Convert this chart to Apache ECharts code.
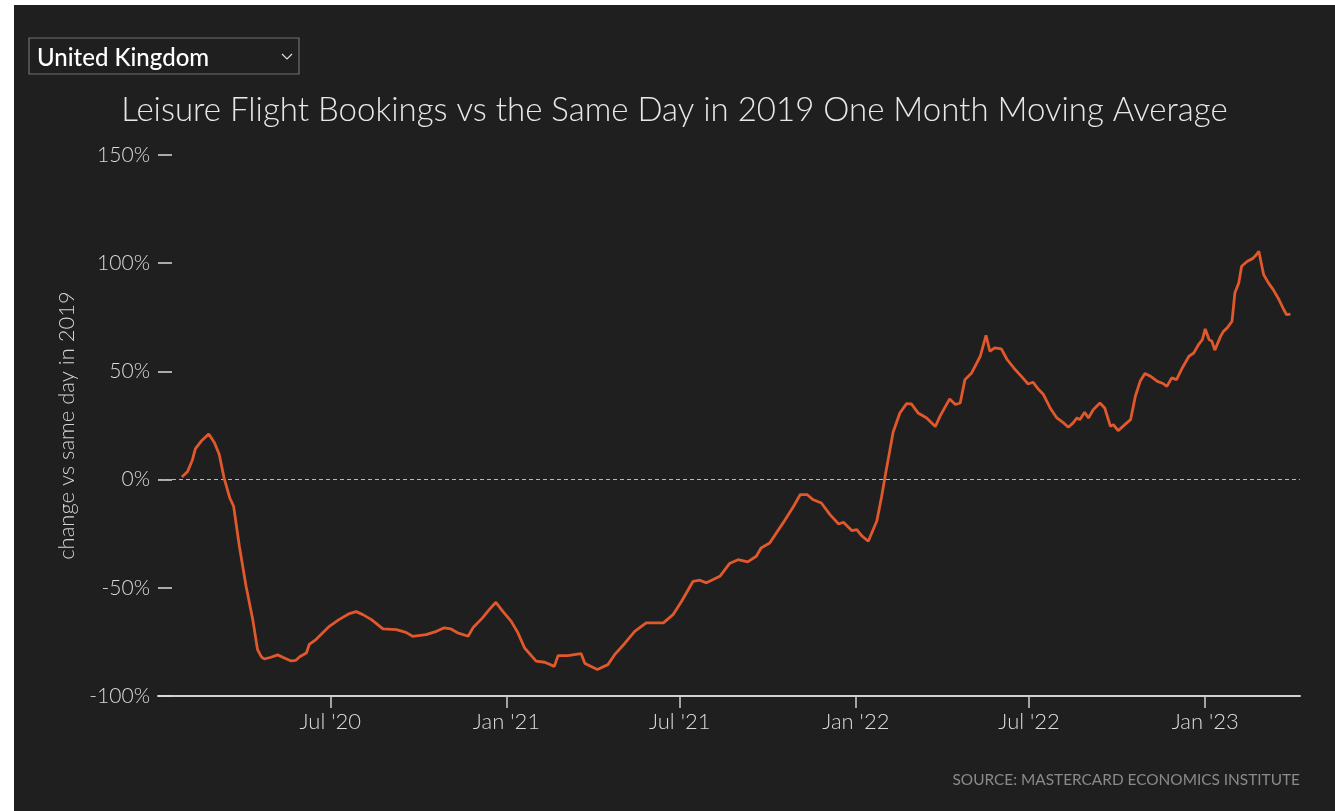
<!DOCTYPE html>
<html>
<head>
<meta charset="utf-8">
<script src="https://cdn.jsdelivr.net/npm/echarts@6/dist/echarts.min.js"></script>
<style>
  html, body { margin: 0; padding: 0; background: #ffffff; }
  #chart { position: absolute; left: 14px; top: 5px; width: 1321px; height: 806px; }
</style>
</head>
<body>
<div id="chart"></div>
<script>
// Leisure flight bookings, UK, % change vs the same day in 2019 (one month moving average)
const dates = [
  '2020-01-28','2020-02-03','2020-02-08','2020-02-11','2020-02-17','2020-02-25','2020-03-02','2020-03-07',
  '2020-03-12','2020-03-18','2020-03-22','2020-03-28','2020-04-04','2020-04-11','2020-04-16','2020-04-20',
  '2020-04-23','2020-04-30','2020-05-07','2020-05-14','2020-05-21','2020-05-26','2020-05-30','2020-06-06',
  '2020-06-09','2020-06-16','2020-06-30','2020-07-10','2020-07-21','2020-07-28','2020-08-04','2020-08-13',
  '2020-08-25','2020-09-08','2020-09-18','2020-09-25','2020-10-09','2020-10-20','2020-10-28','2020-11-04',
  '2020-11-11','2020-11-22','2020-11-27','2020-12-07','2020-12-14','2020-12-21','2020-12-28','2021-01-06',
  '2021-01-13','2021-01-20','2021-02-01','2021-02-10','2021-02-20','2021-02-24','2021-03-06','2021-03-20',
  '2021-03-24','2021-04-06','2021-04-17','2021-04-24','2021-05-05','2021-05-15','2021-05-27','2021-06-14',
  '2021-06-24','2021-07-03','2021-07-15','2021-07-22','2021-07-29','2021-08-12','2021-08-22','2021-08-31',
  '2021-09-10','2021-09-19','2021-09-24','2021-10-03','2021-10-17','2021-10-28','2021-11-04','2021-11-11',
  '2021-11-17','2021-11-26','2021-12-05','2021-12-14','2021-12-19','2021-12-28','2022-01-02','2022-01-07',
  '2022-01-14','2022-01-23','2022-01-28','2022-02-02','2022-02-09','2022-02-16','2022-02-23','2022-02-28',
  '2022-03-07','2022-03-16','2022-03-25','2022-03-30','2022-04-09','2022-04-15','2022-04-20','2022-04-25',
  '2022-05-02','2022-05-11','2022-05-17','2022-05-21','2022-05-26','2022-06-02','2022-06-08','2022-06-15',
  '2022-06-23','2022-06-30','2022-07-05','2022-07-11','2022-07-16','2022-07-23','2022-07-30','2022-08-06',
  '2022-08-11','2022-08-16','2022-08-20','2022-08-23','2022-08-28','2022-09-01','2022-09-06','2022-09-13',
  '2022-09-18','2022-09-24','2022-09-27','2022-10-02','2022-10-09','2022-10-15','2022-10-20','2022-10-25',
  '2022-10-30','2022-11-05','2022-11-12','2022-11-18','2022-11-22','2022-11-27','2022-12-02','2022-12-08',
  '2022-12-15','2022-12-20','2022-12-25','2022-12-29','2023-01-01','2023-01-05','2023-01-08','2023-01-11',
  '2023-01-17','2023-01-20','2023-01-24','2023-01-25','2023-01-29','2023-02-01','2023-02-05','2023-02-08',
  '2023-02-14','2023-02-19','2023-02-22','2023-02-26','2023-03-03','2023-03-08','2023-03-13','2023-03-19',
  '2023-03-24','2023-03-27','2023-03-31'
];
const values = [
  1.2, 3.8, 9.2, 14.2, 17.7, 21.1, 17.0, 11.6,
  0.8, -8.5, -12.3, -30.8, -49.3, -64.7, -78.6, -81.9,
  -82.9, -82.1, -81.0, -82.4, -83.8, -83.5, -81.9, -80.1,
  -76.2, -73.9, -67.8, -64.7, -61.9, -61.0, -62.4, -64.7,
  -69.0, -69.3, -70.6, -72.4, -71.6, -70.1, -68.5, -69.0,
  -70.8, -72.4, -68.5, -63.9, -60.1, -56.7, -60.8, -65.5,
  -70.8, -77.8, -83.9, -84.4, -86.3, -81.3, -81.3, -80.4,
  -85.0, -87.8, -85.5, -80.9, -75.5, -70.1, -66.2, -66.2,
  -62.4, -56.2, -47.0, -46.5, -47.7, -44.7, -38.8, -37.0,
  -38.0, -35.4, -31.6, -29.3, -20.0, -12.3, -6.9, -6.9,
  -9.2, -10.8, -16.2, -20.5, -19.7, -23.6, -23.1, -25.9,
  -28.5, -19.0, -7.7, 5.0, 22.0, 30.8, 35.1, 35.0,
  30.8, 28.5, 24.5, 29.3, 37.3, 34.7, 35.4, 46.2,
  49.3, 57.0, 66.7, 59.3, 60.9, 60.4, 55.5, 51.6,
  47.7, 44.2, 45.0, 41.6, 39.3, 33.1, 28.5, 26.2,
  24.2, 26.2, 28.5, 27.7, 31.1, 28.5, 32.3, 35.4,
  33.1, 24.6, 25.4, 22.6, 25.4, 27.7, 38.5, 45.4,
  49.0, 47.7, 45.4, 44.4, 43.1, 47.0, 46.2, 51.6,
  57.0, 58.5, 62.4, 64.7, 69.6, 64.7, 63.9, 59.8,
  66.2, 68.5, 70.1, 69.3, 73.2, 86.3, 90.9, 98.6,
  100.9, 102.0, 103.2, 105.5, 94.7, 90.9, 87.8, 83.2,
  78.6, 76.2, 76.5
];
// x-axis tick dates and y-axis range
const tickDates = ['2020-07-01', '2021-01-01', '2021-07-01', '2022-01-01', '2022-07-01', '2023-01-01'];
const monthNames = ['Jan','Feb','Mar','Apr','May','Jun','Jul','Aug','Sep','Oct','Nov','Dec'];
const xRange = ['2020-01-03', '2023-04-10'];
const yTicks = [-100, -50, 0, 50, 100, 150];

const FONT = 'Lato, "Open Sans", sans-serif';
const toTime = s => +echarts.time.parse(s);
const tickTimes = tickDates.map(toTime);

const chart = echarts.init(document.getElementById('chart'), null, { renderer: 'canvas' });

chart.setOption({
  backgroundColor: '#1f1f1f',
  animation: false,
  textStyle: { fontFamily: FONT },
  title: {
    text: 'Leisure Flight Bookings vs the Same Day in 2019 One Month Moving Average',
    left: 'center',
    top: 84,
    textStyle: { color: '#e8e8e8', fontSize: 33, fontWeight: 300, fontFamily: FONT }
  },
  grid: { left: 144, right: 35, top: 150, bottom: 115, outerBoundsMode: 'none' },
  xAxis: {
    type: 'value',
    min: toTime(xRange[0]),
    max: toTime(xRange[1]),
    axisLine: { show: true, onZero: false, lineStyle: { color: '#d0d0d0', width: 2 } },
    axisTick: {
      show: true, length: 12, customValues: tickTimes,
      lineStyle: { color: '#d0d0d0', width: 1.5 }
    },
    axisLabel: {
      customValues: tickTimes,
      margin: 15,
      color: '#dadada',
      fontSize: 22,
      fontWeight: 300,
      fontFamily: FONT,
      formatter: v => {
        const d = new Date(v);
        return monthNames[d.getMonth()] + " '" + String(d.getFullYear()).slice(2);
      }
    },
    splitLine: { show: false }
  },
  yAxis: {
    type: 'value',
    min: yTicks[0],
    max: yTicks[yTicks.length - 1],
    interval: 50,
    name: 'change vs same day in 2019',
    nameLocation: 'middle',
    nameGap: 80,
    nameTextStyle: { color: '#d4d4d4', fontSize: 22, fontWeight: 300, fontFamily: FONT },
    axisLine: { show: false },
    axisTick: { show: true, inside: true, length: 14, lineStyle: { color: '#dadada', width: 1.5 } },
    axisLabel: {
      margin: 8,
      color: '#dadada',
      fontSize: 21,
      fontWeight: 300,
      fontFamily: FONT,
      formatter: '{value}%'
    },
    splitLine: { show: false }
  },
  series: [{
    type: 'line',
    data: dates.map((d, i) => [toTime(d), values[i]]),
    showSymbol: false,
    symbol: 'none',
    lineStyle: { color: '#e0582b', width: 2.8 },
    z: 3,
    markLine: {
      silent: true,
      symbol: 'none',
      label: { show: false },
      lineStyle: { color: '#b8b8b8', width: 1, type: [4, 3] },
      data: [{ yAxis: 0 }],
      z: 1
    }
  }],
  graphic: [
    {
      type: 'rect',
      shape: { x: 15, y: 33, width: 270, height: 36 },
      style: { fill: 'none', stroke: '#6e6e6e', lineWidth: 1.2 }
    },
    {
      type: 'text',
      x: 23, y: 53,
      style: {
        text: 'United Kingdom',
        fill: '#ffffff',
        font: '500 24px ' + FONT,
        verticalAlign: 'middle'
      }
    },
    {
      type: 'polyline',
      shape: { points: [[268, 49], [273, 54], [278, 49]] },
      style: { stroke: '#e0e0e0', lineWidth: 1.2, fill: 'none' }
    },
    {
      type: 'text',
      x: 1286, y: 775,
      style: {
        text: 'SOURCE: MASTERCARD ECONOMICS INSTITUTE',
        fill: '#8a8a8a',
        font: '400 15.4px ' + FONT,
        align: 'right',
        verticalAlign: 'middle'
      }
    }
  ]
});
</script>
</body>
</html>
